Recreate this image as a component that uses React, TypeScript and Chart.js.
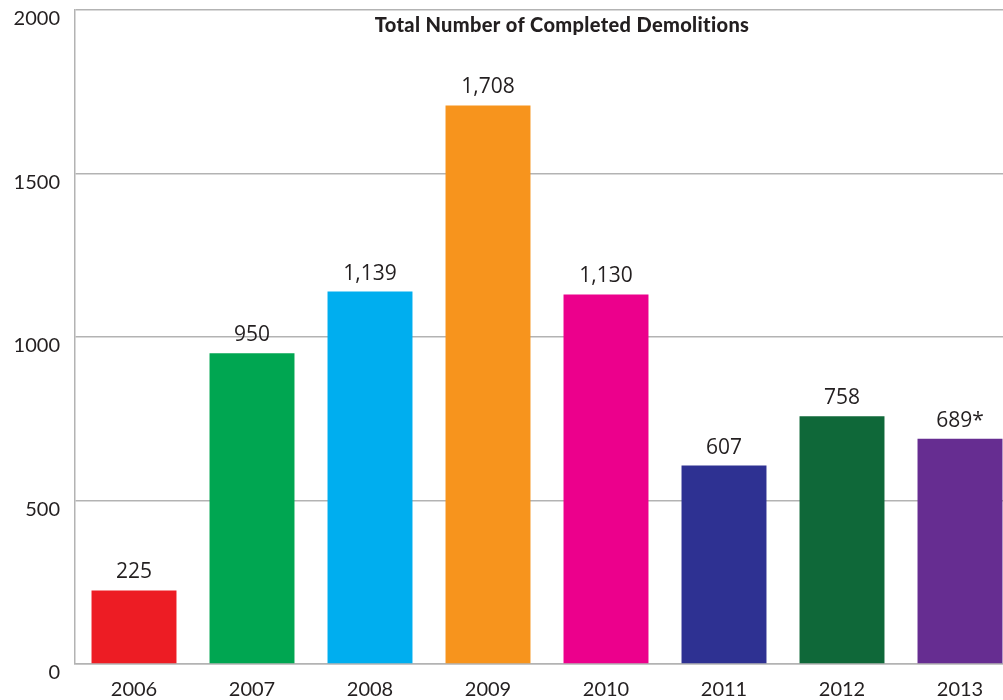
import React, { useEffect, useRef } from "react";
import { Chart, registerables } from "chart.js";

Chart.register(...registerables);

const categories = ["2006", "2007", "2008", "2009", "2010", "2011", "2012", "2013"];
const values = [225, 950, 1139, 1708, 1130, 607, 758, 689];
const valueLabels = ["225", "950", "1,139", "1,708", "1,130", "607", "758", "689*"];
const barColors = ["#ED1C24", "#00A651", "#00AEEF", "#F7941D", "#EC008C", "#2E3192", "#0F6839", "#662D91"];
const yTicks = [0, 500, 1000, 1500, 2000];
const titleText = "Total Number of Completed Demolitions";

const TEXT = "#231f20";
const GRID = "#b3b3b3";

export default function App() {
  const ref = useRef<HTMLCanvasElement | null>(null);

  useEffect(() => {
    if (!ref.current) return;
    const labelPlugin = {
      id: "valueLabels",
      afterDatasetsDraw(chart: any) {
        const ctx = chart.ctx;
        const meta = chart.getDatasetMeta(0);
        ctx.save();
        ctx.fillStyle = TEXT;
        ctx.font = "21px 'Open Sans'";
        ctx.textAlign = "center";
        ctx.textBaseline = "alphabetic";
        meta.data.forEach((bar: any, i: number) => {
          ctx.fillText(valueLabels[i], bar.x, bar.y - 12);
        });
        const a = chart.chartArea;
        ctx.font = "900 20px Lato";
        try {
          (ctx as any).letterSpacing = "0.35px";
        } catch (e) {}
        ctx.fillText(titleText, (a.left + a.right) / 2 + 15, a.top + 22);
        ctx.restore();
      },
    };
    const chart = new Chart(ref.current, {
      type: "bar",
      data: {
        labels: categories,
        datasets: [
          {
            data: values,
            backgroundColor: barColors,
            borderWidth: 0,
            categoryPercentage: 1,
            barPercentage: 0.72,
          },
        ],
      },
      options: {
        animation: false,
        responsive: false,
        devicePixelRatio: 1,
        layout: { padding: { top: 10, left: 0, right: 0, bottom: 0 } },
        plugins: {
          legend: { display: false },
          tooltip: { enabled: false },
          title: { display: false },
        },
        scales: {
          x: {
            grid: { display: false, drawTicks: false },
            border: { display: true, color: GRID, width: 1.5 },
            ticks: {
              color: TEXT,
              font: { family: "Lato", size: 20 },
              padding: 14,
              maxRotation: 0,
            },
            afterFit(scale: any) {
              scale.height = 36;
              scale.paddingLeft = 0;
              scale.paddingRight = 0;
            },
          },
          y: {
            min: 0,
            max: 2000,
            afterBuildTicks(scale: any) {
              scale.ticks = yTicks.map((v) => ({ value: v }));
            },
            grid: { color: GRID, lineWidth: 1.5, drawTicks: false },
            border: { display: true, color: GRID, width: 1.5 },
            ticks: {
              color: TEXT,
              font: { family: "Lato", size: 20 },
              padding: 15,
              labelOffset: 9,
              callback: (v: any) => String(v),
            },
            afterFit(scale: any) {
              scale.width = 75;
              scale.paddingTop = 0;
              scale.paddingBottom = 0;
            },
          },
        },
      },
      plugins: [labelPlugin],
    });
    return () => chart.destroy();
  }, []);

  return (
    <div
      style={{
        position: "fixed",
        left: 0,
        top: 0,
        width: 1003,
        height: 700,
        overflow: "hidden",
        background: "#fff",
      }}
    >
      <canvas ref={ref} width={1019} height={700} style={{ display: "block", width: 1019, height: 700 }} />
    </div>
  );
}
